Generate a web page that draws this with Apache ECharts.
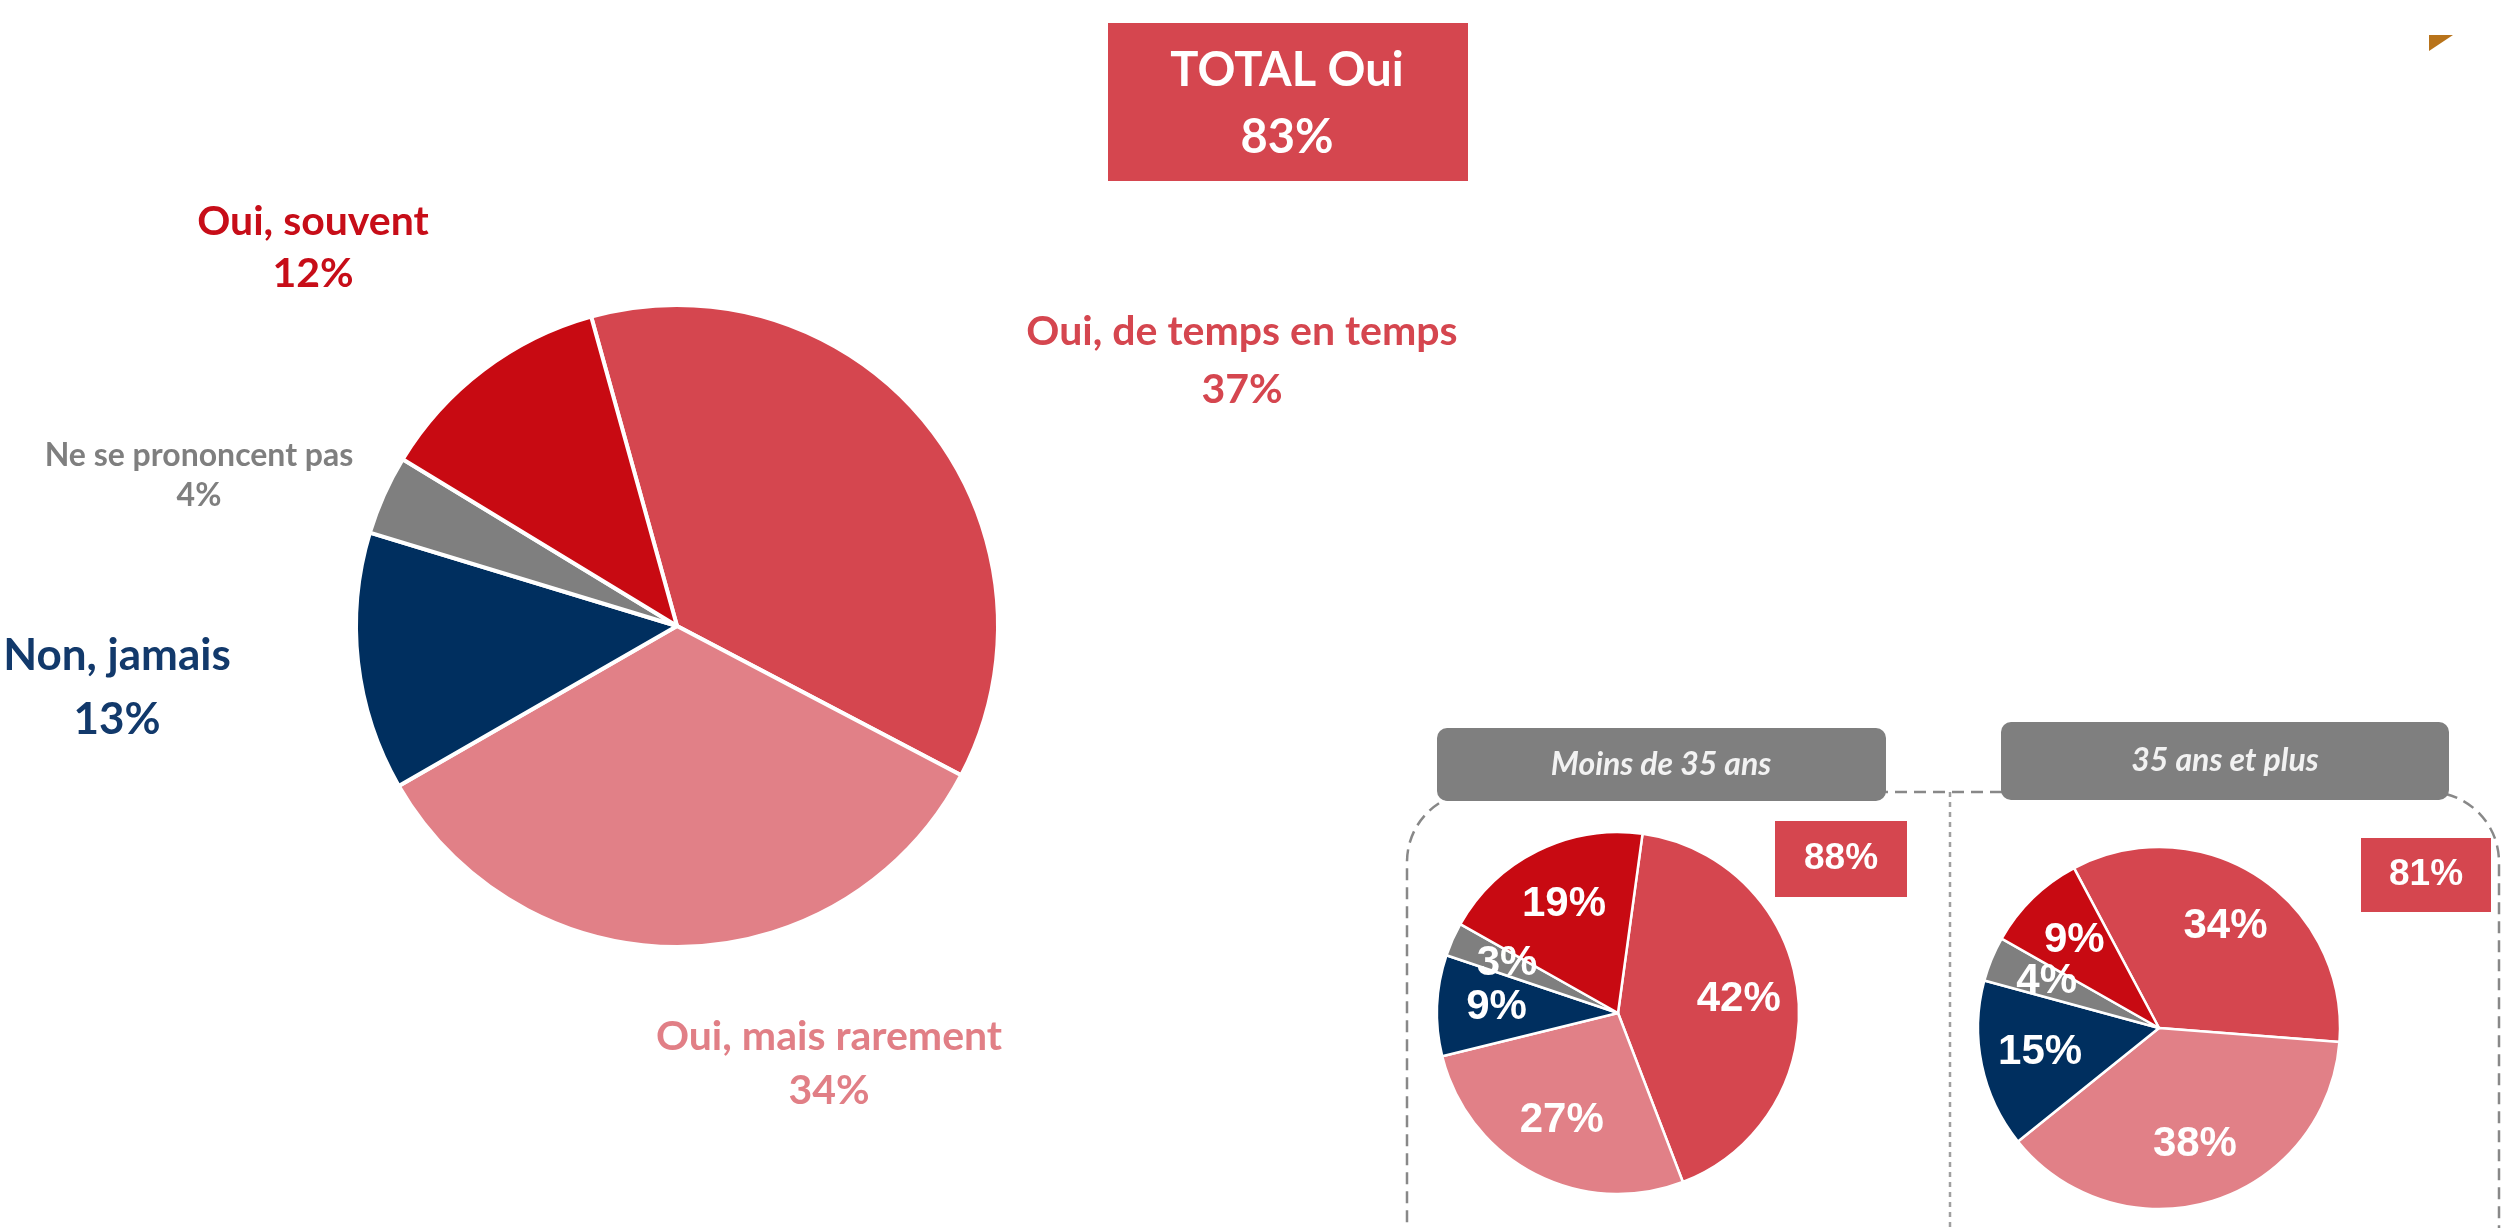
<!DOCTYPE html>
<html>
<head>
<meta charset="utf-8">
<script src="https://cdn.jsdelivr.net/npm/echarts@6/dist/echarts.min.js"></script>
<style>
    html, body {margin: 0; padding: 0; background: #fff;}
    #chart {width: 2504px; height: 1228px;}
</style>
</head>
<body>
<div id="chart"></div>
<script>
// données du sondage (%)
const categories = ['Oui, de temps en temps', 'Oui, mais rarement', 'Non, jamais', 'Ne se prononcent pas', 'Oui, souvent'];
const totalValues = [37, 34, 13, 4, 12];
const moins35Values = [42, 27, 9, 3, 19];
const plus35Values = [34, 38, 15, 4, 9];
const groupNames = ['Moins de 35 ans', '35 ans et plus'];

const colors = ['#D5464F', '#E18087', '#002F5F', '#7F7F7F', '#C80A12'];
const labelColors = ['#D5464F', '#E17F86', '#12396B', '#7F7F7F', '#C70D18'];
// position des étiquettes du grand camembert (centre du bloc de texte)
const mainLabelPos = [[1242, 361], [829, 1064], [117, 688], [199, 476], [313, 248]];
const mainLabelSize = [41, 41, 44, 32, 41];
const mainLabelLine = [58, 54, 64, 40, 52];

const chart = echarts.init(document.getElementById('chart'));

// total des "Oui"
function sumOui(values) {
    let total = 0;
    categories.forEach((c, i) => {
        if (c.indexOf('Oui') === 0) total += values[i];
    });
    return total;
}

function buildData(values) {
    return categories.map((c, i) => ({
        name: c,
        value: values[i],
        itemStyle: {color: colors[i]}
    }));
}

function smallPie(center, startAngle, values) {
    return [{
        type: 'pie',
        center: center,
        radius: 181,
        startAngle: startAngle,
        silent: true,
        label: {show: false},
        labelLine: {show: false},
        itemStyle: {borderColor: '#fff', borderWidth: 2.5},
        data: buildData(values)
    }, {
        // anneau invisible pour placer les % plus loin du centre
        type: 'pie',
        center: center,
        radius: [56, 181],
        startAngle: startAngle,
        silent: true,
        avoidLabelOverlap: false,
        minShowLabelAngle: 0,
        z: 3,
        itemStyle: {color: 'transparent', borderWidth: 0},
        labelLine: {show: false},
        labelLayout: {hideOverlap: false, moveOverlap: null},
        label: {
            show: true,
            position: 'inside',
            formatter: '{c}%',
            color: '#fff',
            fontFamily: 'Liberation Sans, Arial, sans-serif',
            fontWeight: 'bold',
            fontSize: 42
        },
        data: categories.map((c, i) => ({name: c, value: values[i]}))
    }];
}

let option = {
    backgroundColor: '#fff',
    animation: false,
    series: [{
        type: 'pie',
        center: [677, 626],
        radius: 321,
        startAngle: 105.5,
        silent: true,
        itemStyle: {borderColor: '#fff', borderWidth: 4},
        labelLine: {show: false},
        label: {
            show: true,
            position: 'outside',
            formatter: '{b}\n{c}%',
            fontFamily: 'Lato, sans-serif',
            fontWeight: 'bold'
        },
        labelLayout: function (params) {
            const p = mainLabelPos[params.dataIndex];
            return {x: p[0], y: p[1], align: 'center', verticalAlign: 'middle'};
        },
        data: categories.map((c, i) => ({
            name: c,
            value: totalValues[i],
            itemStyle: {color: colors[i]},
            label: {color: labelColors[i], fontSize: mainLabelSize[i], lineHeight: mainLabelLine[i]}
        }))
    }]
        .concat(smallPie([1618, 1013], 82.2, moins35Values))
        .concat(smallPie([2159, 1028], 118, plus35Values)),
    graphic: [
        // cadre pointillé autour des deux petits camemberts
        {
            type: 'rect', z: 0,
            shape: {x: 1407, y: 792, width: 1092, height: 600, r: 70},
            style: {fill: 'none', stroke: '#888888', lineWidth: 2.5, lineDash: [12, 7]}
        },
        {
            type: 'line', z: 0,
            shape: {x1: 1950, y1: 792, x2: 1950, y2: 1228},
            style: {stroke: '#A0A0A0', lineWidth: 2.5, lineDash: [5, 5]}
        },
        {
            type: 'rect', z: 1,
            shape: {x: 1108, y: 23, width: 360, height: 158},
            style: {fill: '#D5464F'}
        },
        {
            type: 'text', z: 2, x: 1287, y: 104,
            style: {
                text: 'TOTAL Oui\n' + sumOui(totalValues) + '%',
                fill: '#fff', font: 'bold 47px Lato, sans-serif', lineHeight: 67,
                align: 'center', verticalAlign: 'middle'
            }
        },
        {
            type: 'rect', z: 1,
            shape: {x: 1437, y: 728, width: 449, height: 73, r: 10},
            style: {fill: '#7F7F7F'}
        },
        {
            type: 'text', z: 2, x: 1661, y: 765,
            style: {
                text: groupNames[0], fill: '#F2F2F2', font: 'italic bold 32px Lato, sans-serif',
                align: 'center', verticalAlign: 'middle'
            }
        },
        {
            type: 'rect', z: 1,
            shape: {x: 2001, y: 722, width: 448, height: 78, r: 10},
            style: {fill: '#7F7F7F'}
        },
        {
            type: 'text', z: 2, x: 2225, y: 761,
            style: {
                text: groupNames[1], fill: '#F2F2F2', font: 'italic bold 32px Lato, sans-serif',
                align: 'center', verticalAlign: 'middle'
            }
        },
        {
            type: 'rect', z: 1,
            shape: {x: 1775, y: 821, width: 132, height: 76},
            style: {fill: '#D5464F'}
        },
        {
            type: 'text', z: 2, x: 1841, y: 859,
            style: {
                text: sumOui(moins35Values) + '%', fill: '#fff', font: 'bold 37px "Liberation Sans", Arial, sans-serif',
                align: 'center', verticalAlign: 'middle'
            }
        },
        {
            type: 'rect', z: 1,
            shape: {x: 2361, y: 838, width: 130, height: 74},
            style: {fill: '#D5464F'}
        },
        {
            type: 'text', z: 2, x: 2426, y: 875,
            style: {
                text: sumOui(plus35Values) + '%', fill: '#fff', font: 'bold 37px "Liberation Sans", Arial, sans-serif',
                align: 'center', verticalAlign: 'middle'
            }
        },
        // petit triangle décoratif en haut à droite
        {
            type: 'polygon', z: 1,
            shape: {points: [[2429, 35], [2453, 35], [2429, 51]]},
            style: {fill: '#B8731A'}
        }
    ]
};

chart.setOption(option);
</script>
</body>
</html>
